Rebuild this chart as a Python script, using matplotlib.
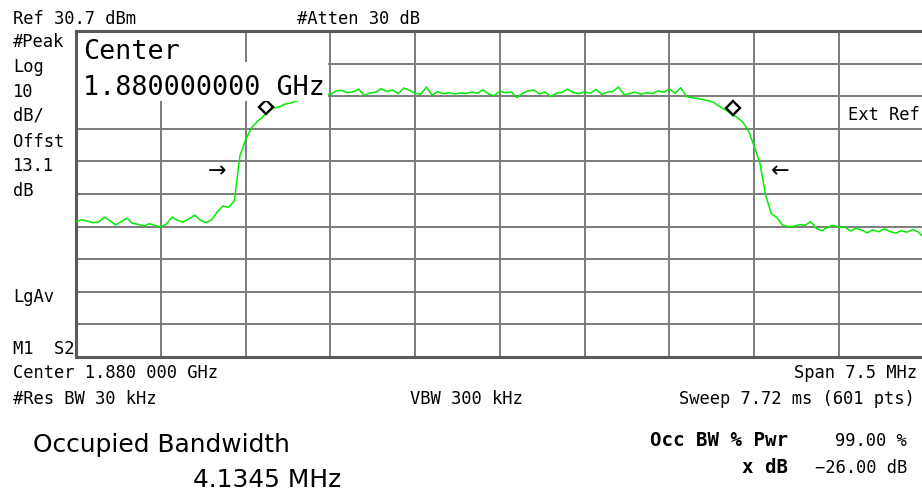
import numpy as np
import matplotlib
matplotlib.use("Agg")
import matplotlib.pyplot as plt
from matplotlib.patches import Rectangle

# analyzer settings
center_ghz = 1.880
span_mhz = 7.5
ref_dbm = 30.7
db_per_div = 10
sweep_points = 151

# trace, dBm (evenly spaced over the span)
trace_dbm = [
    -27.8, -27.2, -27.6, -28.1, -27.9, -26.4, -27.5, -28.8, -27.8, -26.7,
    -28.3, -28.6, -29.1, -28.4, -29.0, -29.4, -28.5, -26.4, -27.4, -27.9,
    -26.9, -25.8, -27.3, -28.1, -27.2, -24.8, -23.0, -23.4, -21.5, -7.6,
    -2.7, 0.9, 2.8, 4.3, 6.2, 7.1, 7.4, 8.3, 8.6, 9.2,
    9.8, 10.3, 10.8, 11.1, 11.4, 11.2, 12.3, 12.5, 11.8, 12.0,
    12.8, 11.0, 11.7, 11.9, 13.0, 12.1, 12.6, 11.5, 13.2, 12.5,
    11.6, 11.3, 13.5, 11.0, 12.1, 11.5, 11.8, 11.4, 11.7, 11.5,
    12.0, 11.6, 12.6, 11.4, 10.9, 12.2, 11.8, 12.0, 10.3, 11.6,
    12.3, 12.6, 11.4, 12.0, 10.6, 11.6, 11.9, 12.9, 11.8, 11.5,
    12.0, 11.6, 12.8, 11.3, 11.9, 12.2, 13.5, 11.1, 11.6, 11.9,
    11.3, 11.8, 11.5, 12.3, 11.9, 12.9, 11.6, 13.3, 10.6, 10.2,
    10.0, 9.6, 9.3, 8.6, 7.4, 6.4, 5.2, 4.2, 2.7, 0.0,
    -4.7, -9.8, -19.5, -25.3, -26.5, -28.8, -29.3, -29.2, -28.7, -28.9,
    -27.8, -29.9, -30.6, -29.4, -28.9, -29.6, -29.3, -30.7, -29.8, -30.4,
    -31.2, -30.3, -30.9, -30.0, -30.8, -31.3, -30.6, -31.0, -30.2, -30.9,
    -32.6,
]

# occupied bandwidth markers (MHz offset, dBm) and x dB arrows
marker_mhz = [-2.07, 2.06]
marker_dbm = [7.4, 7.1]
arrow_mhz = [-2.50, 2.48]
arrow_dbm = -12.2

W, H = 922, 495
mono = "DejaVu Sans Mono"


def px(x, y):
    return x / W, 1 - y / H


fig = plt.figure(figsize=(W / 100, H / 100), dpi=100)
fig.patch.set_facecolor("white")
ax = fig.add_axes([76 / W, 1 - 357 / H, 847.8 / W, 326 / H])

f = np.linspace(-span_mhz / 2, span_mhz / 2, sweep_points)
bottom = ref_dbm - 10 * db_per_div
ax.set_xlim(-span_mhz / 2, span_mhz / 2)
ax.set_ylim(bottom, ref_dbm)
ax.set_xticks(np.linspace(-span_mhz / 2, span_mhz / 2, 11))
ax.set_yticks(np.linspace(bottom, ref_dbm, 11))
ax.tick_params(length=0, labelbottom=False, labelleft=False)
ax.grid(True, color="#7c7c7c", linewidth=1.4)
ax.set_axisbelow(True)
for s in ["left", "top", "bottom", "right"]:
    ax.spines[s].set_color("#5a5a5a")
    ax.spines[s].set_linewidth(2.2)

ax.plot(f, trace_dbm, color="#00ee00", linewidth=1.1, zorder=3)
ax.plot(marker_mhz, marker_dbm, linestyle="none", marker="D", markersize=6.8,
        markerfacecolor="white", markeredgecolor="black", markeredgewidth=1.7, zorder=4)
ax.text(arrow_mhz[0], arrow_dbm, "\u2192", ha="center", va="center", fontsize=16, zorder=4)
ax.text(arrow_mhz[1], arrow_dbm, "\u2190", ha="center", va="center", fontsize=16, zorder=4)

# white boxes behind the center frequency readout
def box(x0, y0, x1, y1):
    ax.add_patch(Rectangle(((x0 - 76) / 847.8, (357 - y1) / 326),
                           (x1 - x0) / 847.8, (y1 - y0) / 326,
                           transform=ax.transAxes, facecolor="white",
                           edgecolor="none", zorder=5, clip_on=False))

box(78, 33, 175, 62)
box(78, 62, 328, 101)

small = 12.3
fig.text(*px(13, 24), "Ref 30.7 dBm", family=mono, fontsize=small, va="baseline")
fig.text(*px(297, 24), "#Atten 30 dB", family=mono, fontsize=small, va="baseline")
for label, yb in [("#Peak", 47), ("Log", 72), ("10", 97), ("dB/", 121),
                  ("Offst", 147), ("13.1", 171), ("dB", 196),
                  ("LgAv", 302), ("M1  S2", 354)]:
    fig.text(*px(13, yb), label, family=mono, fontsize=small, va="baseline")
fig.text(*px(848, 120), "Ext Ref", family=mono, fontsize=small, va="baseline")

fig.text(*px(83, 59), "Center", family=mono, fontsize=19.3, va="baseline")
fig.text(*px(83, 95), "1.880000000 GHz", family=mono, fontsize=19.3, va="baseline")

fig.text(*px(13, 378), "Center 1.880 000 GHz", family=mono, fontsize=small, va="baseline")
fig.text(*px(917, 378), "Span 7.5 MHz", family=mono, fontsize=small, va="baseline", ha="right")
fig.text(*px(13, 404), "#Res BW 30 kHz", family=mono, fontsize=small, va="baseline")
fig.text(*px(410, 404), "VBW 300 kHz", family=mono, fontsize=small, va="baseline")
fig.text(*px(915, 404), "Sweep 7.72 ms (601 pts)", family=mono, fontsize=small,
         va="baseline", ha="right")

fig.text(*px(33, 452), "Occupied Bandwidth", family="DejaVu Sans", fontsize=17.9, va="baseline")
fig.text(*px(193, 487), "4.1345 MHz", family="DejaVu Sans", fontsize=17.9, va="baseline")

fig.text(*px(788, 446), "Occ BW % Pwr", family=mono, fontsize=13.8, weight="bold",
         va="baseline", ha="right")
fig.text(*px(907, 446), "99.00 %", family=mono, fontsize=small, va="baseline", ha="right")
fig.text(*px(788, 473), "x dB", family=mono, fontsize=13.8, weight="bold",
         va="baseline", ha="right")
fig.text(*px(907, 473), "\u221226.00 dB", family=mono, fontsize=small, va="baseline", ha="right")

fig.savefig("out.png", dpi=100)
